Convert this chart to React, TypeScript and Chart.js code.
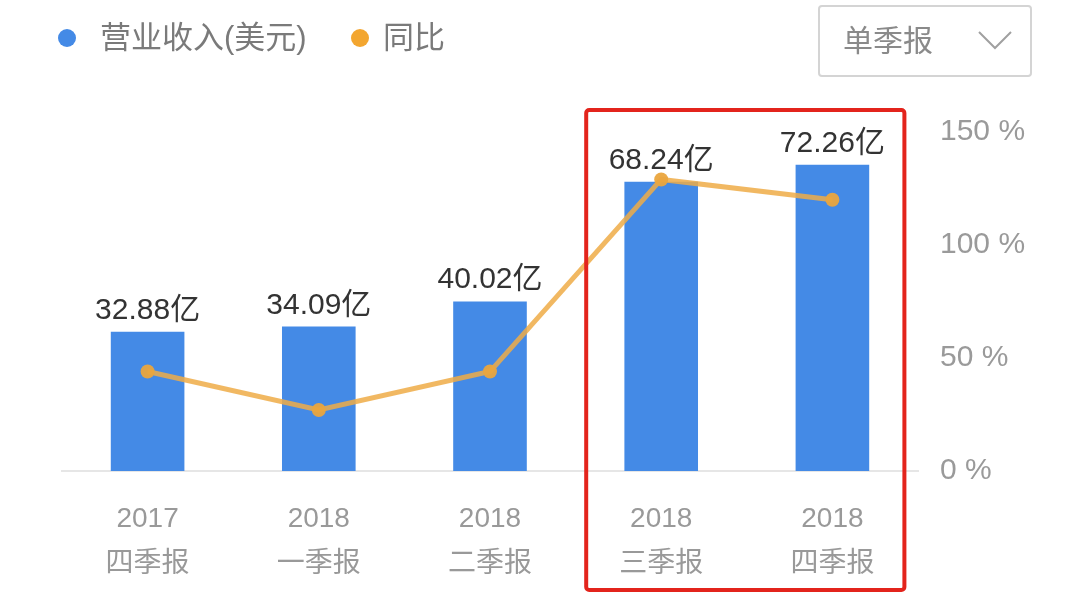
import React, { useEffect, useRef } from "react";
import { Chart, registerables } from "chart.js";

Chart.register(...registerables);

const yearLabels = ["2017", "2018", "2018", "2018", "2018"];
const quarterLabels = ["四季报", "一季报", "二季报", "三季报", "四季报"];
const revenue = [32.88, 34.09, 40.02, 68.24, 72.26];
const yoy = [44, 27, 44, 129, 120];
const pctTicks = [0, 50, 100, 150];
const legendNames = ["营业收入(美元)", "同比"];
const dropdownText = "单季报";

const FONT = '"Liberation Sans", Arial, "Noto Sans CJK SC", sans-serif';
const BLUE = "#448ae6";
const ORANGE = "#f3a630";

const barLabelPlugin = {
  id: "barLabels",
  afterDatasetsDraw(chart: any) {
    const meta = chart.getDatasetMeta(0);
    const ctx = chart.ctx;
    ctx.save();
    ctx.font = `30px ${FONT}`;
    ctx.fillStyle = "#333333";
    ctx.textAlign = "center";
    ctx.textBaseline = "alphabetic";
    meta.data.forEach((el: any, i: number) => {
      ctx.fillText(revenue[i].toFixed(2) + "亿", el.x, el.y - 13);
    });
    ctx.restore();
  },
};

const highlightPlugin = {
  id: "highlightBox",
  afterDraw(chart: any) {
    const x = chart.scales.x;
    const left = x.getPixelForValue(3) - 75;
    const right = x.getPixelForValue(4) + 72;
    const top = 110;
    const bottom = 590;
    const ctx = chart.ctx;
    ctx.save();
    ctx.strokeStyle = "#e3241c";
    ctx.lineWidth = 4;
    ctx.beginPath();
    if (ctx.roundRect) ctx.roundRect(left, top, right - left, bottom - top, 3);
    else ctx.rect(left, top, right - left, bottom - top);
    ctx.stroke();
    ctx.restore();
  },
};

export default function App() {
  const ref = useRef<HTMLCanvasElement | null>(null);

  useEffect(() => {
    document.body.style.margin = "0";
    const canvas = ref.current;
    if (!canvas) return;
    const chart = new Chart(canvas, {
      type: "bar",
      data: {
        labels: yearLabels.map((y, i) => [y, quarterLabels[i]]),
        datasets: [
          {
            type: "bar",
            label: legendNames[0],
            data: revenue,
            backgroundColor: BLUE,
            yAxisID: "y",
            order: 1,
            categoryPercentage: 1,
            barPercentage: 0.43,
          } as any,
          {
            type: "line",
            label: legendNames[1],
            data: yoy,
            yAxisID: "y1",
            order: 0,
            borderColor: "rgba(238,172,70,0.85)",
            borderWidth: 5,
            pointRadius: 7,
            pointBackgroundColor: "rgba(234,165,62,0.95)",
            pointBorderWidth: 0,
            tension: 0,
          } as any,
        ],
      },
      options: {
        animation: false,
        responsive: false,
        maintainAspectRatio: false,
        layout: { padding: { left: 62, top: 132, right: 0, bottom: 0 } },
        plugins: {
          legend: { display: false },
          tooltip: { enabled: false },
        },
        scales: {
          x: {
            position: "bottom",
            grid: { display: false },
            border: { display: true, color: "#e6e6e6", width: 2 },
            ticks: {
              color: "#999999",
              font: { family: FONT, size: 28, lineHeight: "45px" } as any,
              padding: 18,
              maxRotation: 0,
              autoSkip: false,
            },
            afterFit: (s: any) => {
              s.height = 132;
            },
          },
          y: {
            display: false,
            min: 0,
            max: 80,
          },
          y1: {
            position: "right",
            min: 0,
            max: 150,
            grid: { display: false },
            border: { display: false },
            afterBuildTicks: (s: any) => {
              s.ticks = pctTicks.map((v) => ({ value: v }));
            },
            ticks: {
              color: "#9a9a9a",
              font: { family: FONT, size: 30 },
              padding: 14,
              callback: (v: any) => `${v} %`,
            },
            afterFit: (s: any) => {
              s.width = 162;
            },
          },
        },
      } as any,
      plugins: [barLabelPlugin, highlightPlugin],
    });
    return () => chart.destroy();
  }, []);

  return (
    <div
      style={{
        position: "fixed",
        left: 0,
        top: 0,
        width: 1080,
        height: 603,
        background: "#ffffff",
        fontFamily: FONT,
      }}
    >
      <canvas ref={ref} width={1080} height={603} style={{ position: "absolute", left: 0, top: 0 }} />
      <div style={{ position: "absolute", left: 58, top: 29, width: 18, height: 18, borderRadius: 9, background: BLUE }} />
      <div style={{ position: "absolute", left: 100, top: 18, fontSize: 31, lineHeight: "40px", color: "#7a7a7a", whiteSpace: "nowrap" }}>
        {legendNames[0]}
      </div>
      <div style={{ position: "absolute", left: 351, top: 29, width: 18, height: 18, borderRadius: 9, background: ORANGE }} />
      <div style={{ position: "absolute", left: 383, top: 18, fontSize: 31, lineHeight: "40px", color: "#7a7a7a", whiteSpace: "nowrap" }}>
        {legendNames[1]}
      </div>
      <div
        style={{
          position: "absolute",
          left: 818,
          top: 5,
          width: 210,
          height: 68,
          border: "2px solid #d4d4d4",
          borderRadius: 4,
          boxSizing: "content-box",
        }}
      >
        <div style={{ position: "absolute", left: 23, top: 14, fontSize: 30, lineHeight: "40px", color: "#8a8a8a", whiteSpace: "nowrap" }}>
          {dropdownText}
        </div>
        <svg style={{ position: "absolute", left: 156, top: 20 }} width={40} height={26}>
          <polyline points="3,5 19,21 35,5" fill="none" stroke="#a0a0a0" strokeWidth={2} />
        </svg>
      </div>
    </div>
  );
}
